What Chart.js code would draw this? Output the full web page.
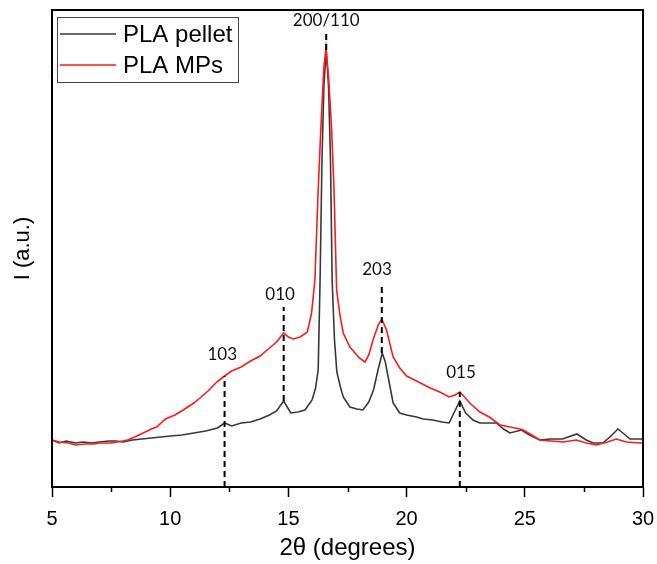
<!DOCTYPE html>
<html>
<head>
<meta charset="utf-8">
<title>PLA XRD</title>
<script src="https://cdn.jsdelivr.net/npm/chart.js@4/dist/chart.umd.min.js"></script>
<style>
  html,body{margin:0;padding:0;background:#fff;}
  #wrap{width:657px;height:564px;}
</style>
</head>
<body>
<div id="wrap"><canvas id="xrd" width="657" height="564"></canvas></div>
<script>
/* ── Data (2θ in degrees, intensity in a.u.) ── */
const pelletTheta=[5.0,5.3,5.6,6.0,6.3,6.7,7.0,7.4,7.7,8.0,8.4,8.8,9.2,9.6,10.0,10.5,11.0,11.5,12.0,12.3,12.6,13.0,13.4,13.8,14.2,14.5,14.8,15.1,15.4,15.7,16.0,16.15,16.26,16.34,16.42,16.5,16.6,16.7,16.78,16.85,16.95,17.05,17.2,17.32,17.6,17.9,18.15,18.4,18.6,18.8,18.97,19.1,19.22,19.43,19.71,20.0,20.42,20.7,21.1,21.5,21.8,22.0,22.25,22.5,22.81,23.1,23.4,23.8,24.1,24.37,24.86,25.2,25.63,26.1,26.6,27.2,27.6,27.9,28.3,28.6,28.94,29.2,29.45,30.0];
const pelletI=[47,44,46,44,45,44,45,46,46,45,47,48,49,50,51,52,54,56,59,64,61,64,65,68,72,76,86,74,75,77,87,99,117,207,327,400,437,400,327,207,147,115,100,90,80,78,77,85,97,118,134,125,110,84,74,72,70,68,67,65,64,74,86,74,67,64,64,64,58,54,57,52,47,48,48,53,47,44,44,50,58,53,48,48];

const mpsTheta=[5.0,5.3,5.7,6.0,6.4,6.8,7.0,7.5,8.0,8.2,8.5,8.86,9.2,9.43,9.8,10.2,10.55,11.0,11.26,11.6,11.97,12.3,12.6,13.0,13.4,13.8,14.2,14.5,14.8,15.0,15.2,15.5,15.8,15.98,16.12,16.26,16.37,16.5,16.59,16.7,16.83,16.93,17.04,17.18,17.32,17.6,18.0,18.24,18.4,18.58,18.8,18.95,19.15,19.43,19.71,20.0,20.42,21.0,21.4,21.8,22.05,22.25,22.45,22.67,23.1,23.5,23.95,24.37,24.8,24.93,25.3,25.63,26.1,26.62,27.18,27.6,28.03,28.5,28.87,29.3,29.9,30.0];
const mpsI=[47,45,44,42,43,43,44,44,46,47,50,54,58,60,68,72,77,84,89,96,105,111,116,120,126,131,139,145,154,150,148,150,155,174,207,297,357,420,439,410,357,297,197,172,154,140,129,125,132,147,162,168,157,130,119,111,106,99,95,90,92,95,90,84,75,70,62,60,58,57,52,47,46,45,47,44,42,45,48,45,44,44];

/* reflections: position, dashed segment ends, label */
const peakNames=['103','010','200/110','203','015'];
const peakTheta=[12.3,14.8,16.6,18.95,22.25];
const dashFrom=[0,86,437,134,0];
const dashTo=[111,180,453,204,95];
const labelTheta=[12.2,14.65,16.6,18.75,22.3];
const labelI=[132,192,466,217,114];

const xTicks=[5,10,15,20,25,30];
const seriesNames=['PLA pellet','PLA MPs'];
const seriesColors=['#383838','#ff1a1a'];

/* ── Build datasets ── */
const toXY=(xs,ys)=>xs.map((x,i)=>({x:x,y:ys[i]}));
const datasets=[
  {label:seriesNames[0],data:toXY(pelletTheta,pelletI),borderColor:seriesColors[0],borderWidth:1.6,pointRadius:0,tension:0,order:2},
  {label:seriesNames[1],data:toXY(mpsTheta,mpsI),borderColor:seriesColors[1],borderWidth:1.6,pointRadius:0,tension:0,order:1}
];
peakTheta.forEach((t,i)=>{
  datasets.push({label:'dash'+i,data:[{x:t,y:dashFrom[i]},{x:t,y:dashTo[i]}],
    borderColor:'#000',borderWidth:2,borderDash:[6,4],pointRadius:0,order:0});
});

/* ── Plugins: frame, minor ticks, peak labels, legend ── */
const decor={
  id:'decor',
  afterDraw(chart){
    const {ctx,chartArea:a,scales:{x,y}}=chart;
    ctx.save();
    // frame
    ctx.strokeStyle='#000';ctx.lineWidth=2;
    ctx.strokeRect(a.left,a.top,a.right-a.left,a.bottom-a.top);
    // minor ticks
    ctx.lineWidth=1.5;
    for(let v=7.5;v<30;v+=5){
      const px=Math.round(x.getPixelForValue(v))+0.5;
      ctx.beginPath();ctx.moveTo(px,a.bottom);ctx.lineTo(px,a.bottom+5);ctx.stroke();
    }
    // peak labels
    ctx.fillStyle='#111';ctx.font='17px Lato, "Open Sans", sans-serif';
    ctx.textAlign='center';ctx.textBaseline='middle';
    peakNames.forEach((n,i)=>{
      ctx.fillText(n,x.getPixelForValue(labelTheta[i]),y.getPixelForValue(labelI[i]));
    });
    // legend box
    const bx=a.left+5,by=a.top+7,bw=181,bh=65;
    ctx.fillStyle='#fff';ctx.fillRect(bx,by,bw,bh);
    ctx.strokeStyle='#444';ctx.lineWidth=1;
    ctx.strokeRect(bx+0.5,by+0.5,bw,bh);
    ctx.font='24px "Liberation Sans", Arial, sans-serif';
    ctx.textAlign='left';
    seriesNames.forEach((n,i)=>{
      const ly=by+17+i*31;
      ctx.strokeStyle=seriesColors[i];ctx.lineWidth=1.6;
      ctx.beginPath();ctx.moveTo(bx+3,ly);ctx.lineTo(bx+59,ly);ctx.stroke();
      ctx.fillStyle='#000';
      ctx.fillText(n,bx+66,ly+1);
    });
    ctx.restore();
  }
};

new Chart(document.getElementById('xrd'),{
  type:'line',
  data:{datasets:datasets},
  options:{
    responsive:false,animation:false,
    layout:{padding:{top:10,right:14,left:0,bottom:0}},
    plugins:{legend:{display:false},tooltip:{enabled:false}},
    scales:{
      x:{
        type:'linear',min:5,max:30,
        afterFit(s){s.height=77;s.paddingLeft=0;s.paddingRight=0;},
        afterBuildTicks(s){s.ticks=xTicks.map(v=>({value:v}));},
        ticks:{color:'#000',padding:10,maxRotation:0,autoSkip:false,
          font:{family:'"Liberation Sans", Arial, sans-serif',size:20}},
        grid:{drawOnChartArea:false,tickLength:10,tickColor:'#000',tickWidth:1.5},
        border:{color:'#000',width:2},
        title:{display:true,text:'2θ (degrees)',color:'#000',padding:{top:2,bottom:1},
          font:{family:'"Liberation Sans", Arial, sans-serif',size:24}}
      },
      y:{
        min:0,max:477,
        afterFit(s){s.width=52;},
        ticks:{display:false},
        grid:{display:false},
        border:{color:'#000',width:2},
        title:{display:true,text:'I (a.u.)',color:'#000',padding:{top:10,bottom:0},
          font:{family:'"Liberation Sans", Arial, sans-serif',size:22}}
      }
    }
  },
  plugins:[decor]
});
</script>
</body>
</html>
